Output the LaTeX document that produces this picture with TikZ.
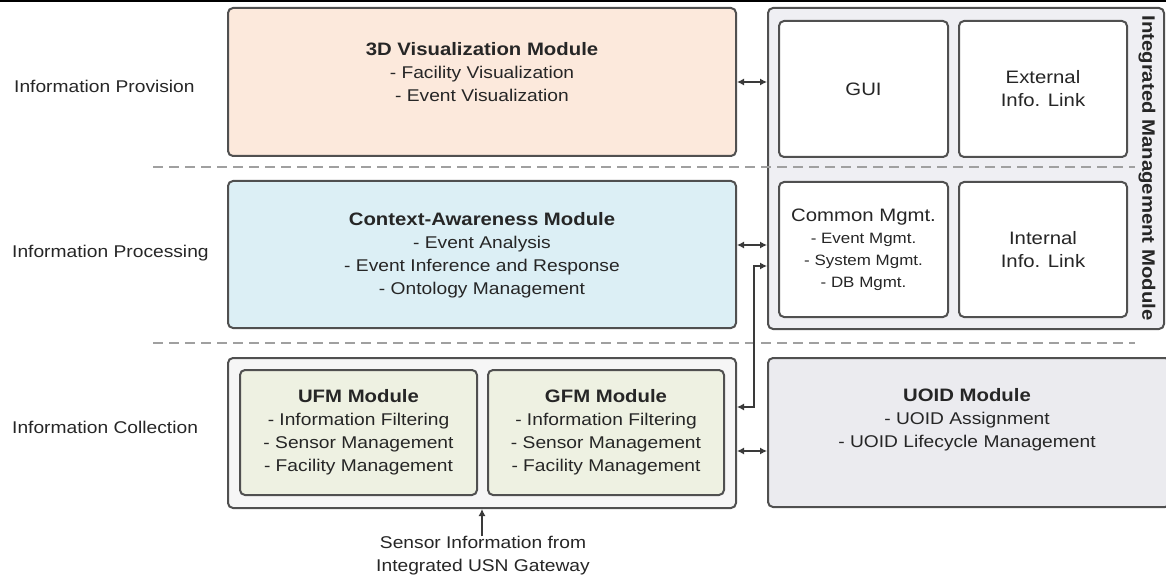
\documentclass[tikz,border=0pt]{standalone}
\usepackage{fontspec}
\setmainfont{Liberation Sans}[FakeStretch=1.13]
\usetikzlibrary{arrows.meta,fit}

\definecolor{visfill}{HTML}{FCE9DC}
\definecolor{ctxfill}{HTML}{DCEFF5}
\definecolor{colfill}{HTML}{F6F6F6}
\definecolor{fmfill}{HTML}{EEF1E2}
\definecolor{immfill}{HTML}{EFEFF3}
\definecolor{uoidfill}{HTML}{EBEBEF}
\definecolor{boxline}{HTML}{505050}
\definecolor{dashc}{HTML}{A0A0A0}
\definecolor{txtc}{HTML}{262626}
\definecolor{linec}{HTML}{3A3A3A}

\tikzset{
  box/.style={draw=boxline, line width=2pt, rounded corners=5pt, inner sep=0pt},
  body/.style={text=txtc, align=center, inner sep=0pt, font=\fontsize{17}{23}\selectfont},
  small/.style={text=txtc, align=center, inner sep=0pt, font=\fontsize{15}{22}\selectfont},
  layer/.style={text=txtc, anchor=west, inner sep=0pt, font=\fontsize{17}{23}\selectfont},
  divider/.style={draw=dashc, line width=1.8pt, dash pattern=on 10pt off 6pt},
  conn/.style={draw=linec, line width=1.2pt, {Latex[length=7pt,width=7pt]}-{Latex[length=7pt,width=7pt]}},
  feed/.style={draw=linec, line width=1.2pt, -{Latex[length=7pt,width=7pt]}}
}
\newcommand{\ttl}[1]{{\fontsize{18}{23}\selectfont\bfseries #1}}

\begin{document}
\begin{tikzpicture}[x=1pt,y=-1pt]
\useasboundingbox (0,0) rectangle (1166,577);
\fill[white] (0,0) rectangle (1166,577);
\fill[black] (0,0) rectangle (1166,2.5);

% layer names
\node[layer] (lprov) at (14,86) {Information Provision};
\node[layer] (lproc) at (12,253) {Information Processing};
\node[layer] (lcoll) at (12,427) {Information Collection};

% left column modules
\node[box, fill=visfill, fit={(228,8) (736,156)}] (vis) {};
\node[body] (vist) at (482,72) {\ttl{3D Visualization Module}\\- Facility Visualization\\- Event Visualization};

\node[box, fill=ctxfill, fit={(228,181) (736,328)}] (ctx) {};
\node[body] (ctxt) at (482,255) {\ttl{Context-Awareness Module}\\- Event Analysis\\- Event Inference and Response\\- Ontology Management};

\node[box, fill=colfill, fit={(228,358) (736,508)}] (col) {};
\node[box, fill=fmfill, fit={(240,370) (477,495)}] (ufm) {};
\node[box, fill=fmfill, fit={(488,370) (724,495)}] (gfm) {};
\node[body] (ufmt) at (ufm.center) {\ttl{UFM Module}\\- Information Filtering\\- Sensor Management\\- Facility Management};
\node[body] (gfmt) at (gfm.center) {\ttl{GFM Module}\\- Information Filtering\\- Sensor Management\\- Facility Management};

% right column
\node[box, fill=immfill, fit={(768,8) (1164,329)}] (imm) {};
\node[box, fill=white, fit={(779,21) (948,157)}] (gui) {};
\node[box, fill=white, fit={(959,21) (1127,157)}] (ext) {};
\node[box, fill=white, fit={(779,182) (948,317)}] (cmn) {};
\node[box, fill=white, fit={(959,182) (1127,317)}] (intl) {};
\node[body, font=\fontsize{18}{23}\selectfont] (guit) at (gui.center) {GUI};
\node[body, font=\fontsize{18}{23}\selectfont] (extt) at (ext.center) {External\\Info. Link};
\node[small] (cmnt) at (cmn.center) {{\fontsize{18}{22}\selectfont Common Mgmt.}\\- Event Mgmt.\\- System Mgmt.\\- DB Mgmt.};
\node[body, font=\fontsize{18}{23}\selectfont] (intt) at (intl.center) {Internal\\Info. Link};
\node[text=txtc, inner sep=0pt, rotate=-90, font=\fontsize{18}{23}\selectfont\bfseries] (immt) at (1147,168) {Integrated Management Module};

\node[box, fill=uoidfill, fit={(768,358) (1170,507)}] (uoid) {};
\node[body] (uoidt) at (967,420) {\ttl{UOID Module}\\- UOID Assignment\\- UOID Lifecycle Management};

% layer dividers
\coordinate (d1a) at (153,167); \coordinate (d1b) at (1135,167);
\coordinate (d2a) at (153,343); \coordinate (d2b) at (1135,343);
\draw[divider] (d1a) -- (d1b);
\draw[divider] (d2a) -- (d2b);

% connectors
\draw[conn] (vis.east) -- (vis.east -| imm.west);
\draw[conn] ([yshift=9.5pt]ctx.east) -- ([yshift=9.5pt]ctx.east -| imm.west);
\coordinate (bend) at (754,266);
\draw[conn] ([yshift=26pt]col.east) -| (bend) -- (bend -| imm.west);
\draw[conn] ([yshift=-18pt]col.east) -- ([yshift=-18pt]col.east -| uoid.west);

% sensor input
\node[body] (sens) at (483,556) {Sensor Information from\\Integrated USN Gateway};
\draw[feed] (sens.north -| 482,0) -- (482,0 |- col.south);
\end{tikzpicture}
\end{document}
